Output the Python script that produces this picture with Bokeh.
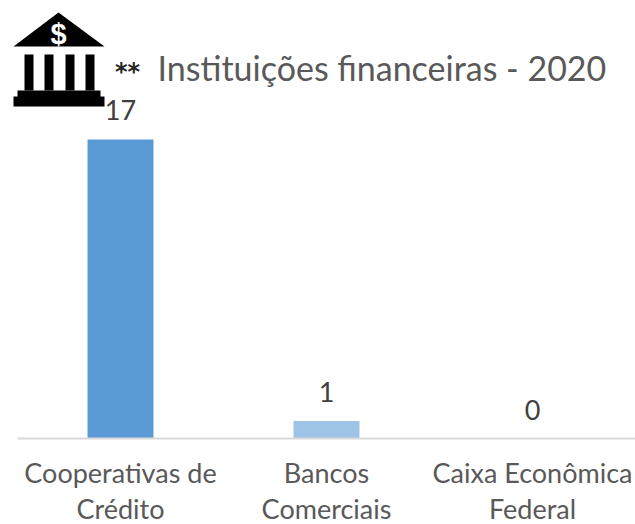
from bokeh.plotting import figure
from bokeh.models import Range1d, ColumnDataSource, FixedTicker
from bokeh.core.properties import value
from bokeh.embed import file_html
from bokeh.resources import INLINE

categories = ["Cooperativas de\nCrédito", "Bancos\nComerciais", "Caixa Econômica\nFederal"]
counts = [17, 1, 0]
bar_colors = ["#5b9bd5", "#9dc3e6", "#9dc3e6"]
title_text = "Instituições financeiras - 2020"
FONT = "Lato"
idx = list(range(len(categories)))

p = figure(width=635, height=527, output_backend="svg", toolbar_location=None,
           x_range=Range1d(-0.5825, 2.5), y_range=Range1d(0, 24.9), tools="",
           min_border_left=0, min_border_right=0, min_border_top=0, min_border_bottom=89,
           outline_line_color=None, background_fill_color="white", border_fill_color="white")
p.margin = (0, 0, -3, 0)
p.grid.visible = False
p.yaxis.visible = False
p.xaxis.ticker = FixedTicker(ticks=idx)
p.xaxis.bounds = (-0.5, 2.5)
p.xaxis.major_label_overrides = {i: c for i, c in zip(idx, categories)}
p.xaxis.axis_line_color = "#d9d9d9"
p.xaxis.axis_line_width = 2
p.xaxis.major_tick_line_color = None
p.xaxis.minor_tick_line_color = None
p.xaxis.major_tick_out = 0
p.xaxis.major_tick_in = 0
p.xaxis.major_label_text_color = "#595959"
p.xaxis.major_label_text_font = FONT
p.xaxis.major_label_text_font_size = "27px"
p.xaxis.major_label_text_line_height = 1.1
p.xaxis.major_label_standoff = 17

src = ColumnDataSource(dict(x=idx, val=counts, col=bar_colors, lab=[str(v) for v in counts]))
p.vbar(x="x", top="val", width=0.32, fill_color="col", line_color=None, source=src)
p.text(x="x", y="val", text="lab", source=src, text_align="center", text_baseline="bottom",
       y_offset=-19, text_color="#404040", text_font=value(FONT), text_font_size="27px")

# page-pixel ranges for decoration and title
p.extra_x_ranges["px"] = Range1d(0, 635)
p.extra_y_ranges["py"] = Range1d(438, 0)
kw = dict(x_range_name="px", y_range_name="py")

p.patches(
    xs=[[13, 58, 104], [24, 33, 33, 24], [44, 53, 53, 44], [65, 74, 74, 65], [85, 94, 94, 85],
        [17, 100, 100, 17], [13, 104, 104, 13]],
    ys=[[46, 12, 46], [54, 54, 90, 90], [54, 54, 90, 90], [54, 54, 90, 90], [54, 54, 90, 90],
        [90, 90, 97, 97], [96, 96, 106, 106]],
    fill_color="black", line_color=None, **kw)
p.text(x=[58], y=[33], text=["$"], text_align="center", text_baseline="middle", text_color="white",
       text_font=value("Liberation Sans"), text_font_style="bold", text_font_size="29px", **kw)
p.text(x=[127], y=[71], text=["**"], text_align="center", text_baseline="middle", text_color="#262626",
       text_font=value("DejaVu Sans"), text_font_style="bold", text_font_size="24px", **kw)
p.text(x=[157], y=[67], text=[title_text], text_align="left", text_baseline="middle", text_color="#595959",
       text_font=value(FONT), text_font_size="34px", **kw)

open("out.html", "w").write(file_html(p, INLINE))
